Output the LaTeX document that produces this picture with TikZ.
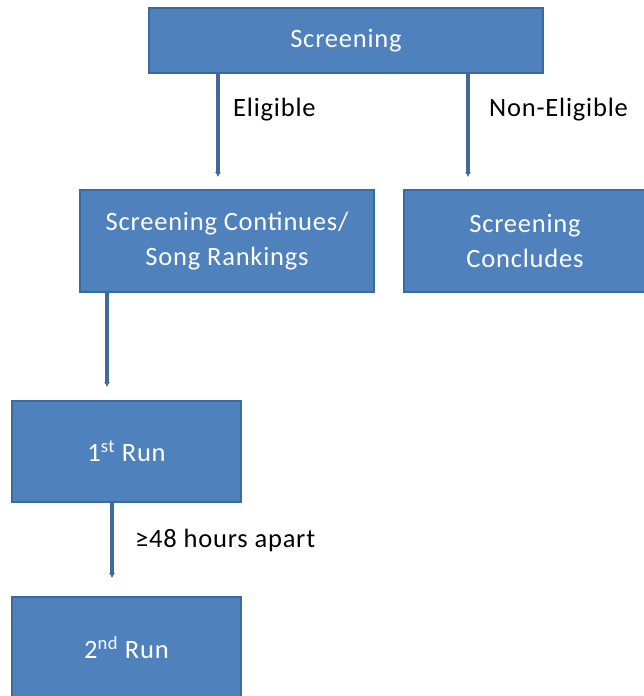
\documentclass[tikz,border=0pt]{standalone}
\usepackage{fontspec}
\setmainfont{Carlito}[LetterSpace=3]
\usetikzlibrary{arrows.meta}
\definecolor{boxfill}{HTML}{4F81BD}
\definecolor{boxline}{HTML}{3B6A9C}
\definecolor{arrowc}{HTML}{41699B}
\tikzset{
  box/.style={draw=boxline, line width=1.2pt, fill=boxfill, text=white, align=center,
    font=\fontsize{26.5}{35}\selectfont, inner sep=0pt},
  conn/.style={draw=arrowc, line width=3.6pt, -{Latex[length=5pt,width=6pt]}},
  lbl/.style={anchor=west, font=\fontsize{26.5}{30}\selectfont, text=black, inner sep=0pt}
}
\begin{document}
\begin{tikzpicture}[x=1pt,y=-1pt]
\useasboundingbox (0,0) rectangle (644,696);
\node[box, minimum width=394pt, minimum height=65pt] (scr) at (346,40.5) {Screening};
\node[box, minimum width=294pt, minimum height=102pt] (cont) at (227,241) {Screening Continues/\\Song Rankings};
\node[box, minimum width=242pt, minimum height=102pt] (conc) at (525,241) {Screening\\Concludes};
\node[box, minimum width=229pt, minimum height=101pt] (run1) at (126.5,451.5) {1\textsuperscript{st} Run};
\node[box, minimum width=229pt, minimum height=102pt] (run2) at (126.5,648) {2\textsuperscript{nd} Run};
\coordinate (e1) at (218,177);
\coordinate (e2) at (468,177);
\coordinate (e3) at (107,387);
\coordinate (e4) at (112,578);
\draw[conn] (scr.south -| e1) -- (e1);
\draw[conn] (scr.south -| e2) -- (e2);
\draw[conn] (cont.south -| e3) -- (e3);
\draw[conn] (run1.south -| e4) -- (e4);
\node[lbl] (l1) at (233,110) {Eligible};
\node[lbl] (l2) at (489,110) {Non-Eligible};
\node[lbl] (l3) at (135,540) {≥48 hours apart};
\end{tikzpicture}
\end{document}
